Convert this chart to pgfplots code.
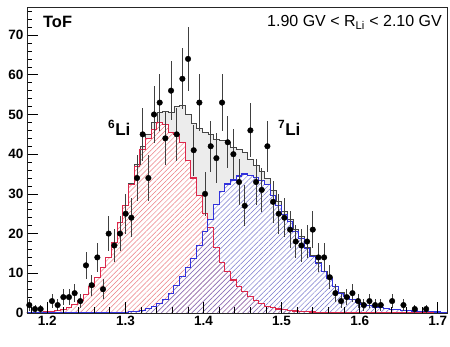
\documentclass[border=0pt]{standalone}
\usepackage{fontspec}
\setmainfont{Liberation Sans}
\usepackage{pgfplots}
\pgfplotsset{compat=1.18}
\usepackage{pgfplotstable}
\usetikzlibrary{patterns.meta}

\definecolor{lired}{RGB}{220,40,75}
\definecolor{lihatchred}{RGB}{236,125,130}
\definecolor{liblue}{RGB}{50,50,220}
\definecolor{lihatchblue}{RGB}{120,120,205}
\definecolor{totfill}{RGB}{236,236,236}
\definecolor{totline}{RGB}{70,70,70}

\pgfplotstableread{
i R B T
0 0.1 0 0.1
1 0.15 0 0.15
2 0.2 0 0.2
3 0.3 0 0.3
4 0.45 0 0.45
5 0.65 0 0.65
6 0.95 0 0.95
7 1.4 0 1.4
8 2.1 0 2.1
9 3.2 0 3.2
10 4.7 0 4.7
11 6.6 0 6.6
12 9.0 0 9.0
13 11.5 0 11.5
14 13.9 0.1 14.0
15 17.8 0.1 17.9
16 22.7 0.15 22.85
17 27 0.2 27.2
18 32.3 0.3 32.6
19 37 0.45 37.45
20 41.2 0.7 41.9
21 44 1.1 45.1
22 46.3 1.7 48.0
23 48 2.5 50.5
24 47.5 3.3 50.8
25 45.5 5 50.5
26 45 7 52.0
27 43 9.3 52.3
28 38.5 11.5 50.0
29 34 13.7 47.7
30 29.5 17 46.5
31 25 20.5 45.5
32 21.5 23.5 45.0
33 16.5 27.3 43.8
34 12.8 30.7 43.5
35 10.4 32.5 42.9
36 8.3 33.5 41.8
37 6.6 34.5 41.1
38 5.4 35 40.4
39 4.1 34.6 38.7
40 3.1 34.2 37.3
41 2.3 33.3 35.6
42 1.7 32.3 34.0
43 1.3 29.5 30.8
44 1.0 27 28.0
45 0.8 24.8 25.6
46 0.6 23 23.6
47 0.5 20.5 21.0
48 0.4 18.8 19.2
49 0.3 16.3 16.6
50 0.25 14.2 14.45
51 0.2 12.5 12.7
52 0.15 10.4 10.55
53 0.12 8.7 8.82
54 0.1 6.6 6.7
55 0.08 5 5.08
56 0.06 4.1 4.16
57 0.05 3.3 3.35
58 0.04 2.7 2.74
59 0.03 2.2 2.23
60 0.02 1.8 1.82
61 0.02 1.5 1.52
62 0.01 1.3 1.31
63 0.01 1.1 1.11
64 0 0.9 0.9
65 0 0.8 0.8
66 0 0.7 0.7
67 0 0.6 0.6
68 0 0.5 0.5
69 0 0.4 0.4
70 0 0.35 0.35
71 0 0.3 0.3
72 0 0.25 0.25
73 0 0.2 0.2
74 0 0 0
}\hist

\pgfplotstableread{
i N E
0 2 1.41
1 1 1
2 1 1
4 3 1.73
5 2 1.41
6 4 2
7 4 2
8 5 2.24
9 3 1.73
10 12 3.46
11 7 2.65
12 14 3.74
13 6 2.45
14 20 4.47
15 17 4.12
16 20 4.47
17 25 5
18 24 4.9
19 34 5.83
20 45 6.71
21 34 5.83
22 50 7.07
23 53 7.28
24 44 6.63
25 56 7.48
26 45 6.71
27 59 7.68
28 64 8
29 41 6.4
30 53 7.28
31 30 5.48
32 42 6.48
33 39 6.24
34 53 7.28
35 43 6.56
36 40 6.32
37 33 5.74
38 27 5.2
39 46 6.78
40 33 5.74
41 31 5.57
42 42 6.48
43 28 5.29
44 25 5
45 24 4.9
46 21 4.58
47 18 4.24
48 17 4.12
49 18 4.24
50 21 4.58
51 14 3.74
52 14 3.74
53 9 3
54 5 2.24
55 3 1.73
56 4 2
57 5 2.24
58 3 1.73
59 2 1.41
60 3 1.73
61 2 1.41
62 2 1.41
64 3 1.73
66 2 1.41
68 1 1
70 1 1
}\pts

\begin{document}
\begin{tikzpicture}
\begin{axis}[
  at={(0,0)}, anchor=south west,
  scale only axis, width=420.5pt, height=305.7pt,
  xmin=1.174, xmax=1.7125, ymin=0, ymax=77,
  axis line style={line width=0.8pt, black!85},
  tick align=inside, xtick pos=bottom, ytick pos=left,
  xtick={1.2,1.3,1.4,1.5,1.6,1.7},
  xticklabels={1.2,1.3,1.4,1.5,1.6,1.7},
  minor xtick={1.18,1.22,1.24,1.26,1.28,1.32,1.34,1.36,1.38,1.42,1.44,1.46,1.48,1.52,1.54,1.56,1.58,1.62,1.64,1.66,1.68},
  ytick={0,10,...,70},
  minor ytick={2,4,...,76},
  major tick length=11pt, minor tick length=5.5pt,
  tick style={black, line width=0.6pt},
  ticklabel style={font=\fontsize{13.5}{14}\selectfont\bfseries},
  /pgf/number format/assume math mode=true,
  axis on top,
]
\addplot[const plot, draw=none, fill=totfill] table[x expr={1.17332+0.00726*\thisrow{i}}, y=T] {\hist} \closedcycle;
\addplot[const plot, draw=none, fill=white] table[x expr={1.17332+0.00726*\thisrow{i}}, y=R] {\hist} \closedcycle;
\addplot[const plot, draw=none, fill=white] table[x expr={1.17332+0.00726*\thisrow{i}}, y=B] {\hist} \closedcycle;
\addplot[const plot, draw=none, pattern={Lines[angle=45,distance=3.6pt,line width=0.5pt]}, pattern color=lihatchred] table[x expr={1.17332+0.00726*\thisrow{i}}, y=R] {\hist} \closedcycle;
\addplot[const plot, draw=none, pattern={Lines[angle=45,distance=3.6pt,line width=0.5pt]}, pattern color=lihatchblue] table[x expr={1.17332+0.00726*\thisrow{i}}, y=B] {\hist} \closedcycle;
\addplot[const plot, totline, line width=0.7pt] table[x expr={1.17332+0.00726*\thisrow{i}}, y=T] {\hist};
\addplot[const plot, lired, line width=1.1pt] table[x expr={1.17332+0.00726*\thisrow{i}}, y=R] {\hist};
\addplot[const plot, liblue, line width=1.1pt] table[x expr={1.17332+0.00726*\thisrow{i}}, y=B] {\hist};
\addplot[only marks, mark=*, mark size=2.8pt, black,
  error bars/.cd, y dir=both, y explicit, error mark=none,
  error bar style={line width=0.9pt, black!75}]
  table[x expr={1.17695+0.00726*\thisrow{i}}, y=N, y error=E] {\pts};

\node[anchor=base west, inner sep=0pt, font=\fontsize{16.4}{18}\selectfont\bfseries] at (axis description cs:0.038,0.935) {ToF};
\node[anchor=base east, inner sep=0pt, font=\fontsize{16}{18}\selectfont] at (axis description cs:0.987,0.9366) {1.90 GV < R\textsubscript{Li} < 2.10 GV};
\node[anchor=base west, inner sep=0pt, font=\fontsize{17}{18}\selectfont\bfseries] at (axis description cs:0.1926,0.582) {\textsuperscript{6}Li};
\node[anchor=base west, inner sep=0pt, font=\fontsize{17}{18}\selectfont\bfseries] at (axis description cs:0.597,0.582) {\textsuperscript{7}Li};
\node[anchor=north east, inner sep=0pt, font=\fontsize{13.5}{14}\selectfont\bfseries, yshift=-17pt] at (axis description cs:1.0,0) {1/β};
\end{axis}
\pgfresetboundingbox
\path[use as bounding box] (-27pt,-34pt) rectangle (423pt,313pt);
\end{tikzpicture}
\end{document}
